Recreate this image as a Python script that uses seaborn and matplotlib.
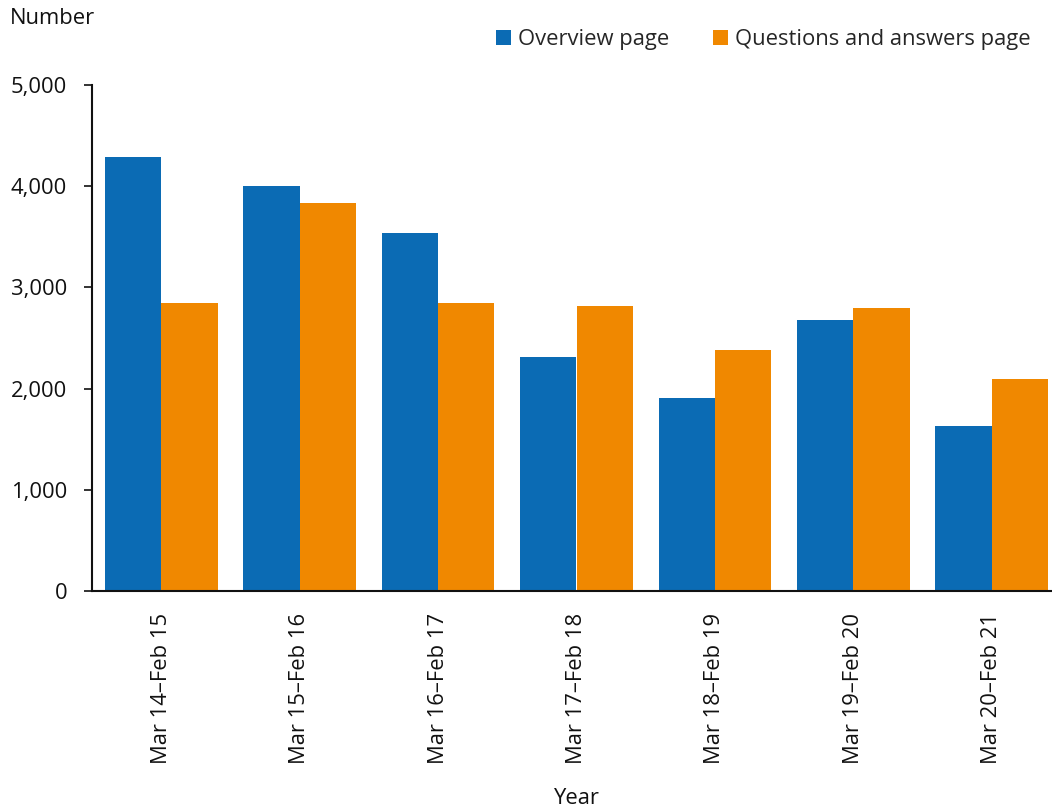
import matplotlib
matplotlib.use("Agg")
import matplotlib.pyplot as plt
import seaborn as sns
import pandas as pd

# Page views per reporting year
periods = ["Mar 14\u2013Feb 15", "Mar 15\u2013Feb 16", "Mar 16\u2013Feb 17",
           "Mar 17\u2013Feb 18", "Mar 18\u2013Feb 19", "Mar 19\u2013Feb 20",
           "Mar 20\u2013Feb 21"]
overview = [4285, 4005, 3540, 2310, 1905, 2675, 1630]
questions = [2850, 3835, 2850, 2820, 2380, 2792, 2090]
series_names = ["Overview page", "Questions and answers page"]
colors = ["#0B6BB4", "#F08800"]

df = pd.DataFrame({
    "period": periods * 2,
    "value": overview + questions,
    "series": [series_names[0]] * len(periods) + [series_names[1]] * len(periods),
})

sns.set_theme(style="white")
plt.rcParams["font.family"] = ["Open Sans", "DejaVu Sans"]
FS = 15.8

fig = plt.figure(figsize=(10.52, 8.09), dpi=100)
ax = fig.add_axes([92 / 1052, 1 - 591 / 809, (1061 - 92) / 1052, (591 - 85) / 809])

sns.barplot(data=df, x="period", y="value", hue="series", order=periods,
            hue_order=series_names, palette=colors, width=0.815, gap=0,
            saturation=1, linewidth=0, ax=ax)

ax.set_ylim(0, 5000)
ax.set_xlim(-0.5, len(periods) - 0.5)
ax.set_yticks(range(0, 5001, 1000))
ax.set_yticklabels([f"{v:,}" for v in range(0, 5001, 1000)], fontsize=FS, color="#111111")
ax.tick_params(axis="y", left=True, length=6, width=1.2, pad=12, color="#111111")
ax.tick_params(axis="x", bottom=False, pad=10)
for lbl in ax.get_xticklabels():
    lbl.set_rotation(90)
    lbl.set_fontsize(FS)
    lbl.set_color("#111111")

for side in ["top", "right"]:
    ax.spines[side].set_visible(False)
for side in ["left", "bottom"]:
    ax.spines[side].set_color("#111111")
    ax.spines[side].set_linewidth(1.5)

ax.set_xlabel("Year", fontsize=FS, color="#111111", labelpad=17)
ax.set_ylabel("")
fig.text(10 / 1052, 1 - 19 / 809, "Number", fontsize=FS, color="#111111",
         ha="left", va="center")

handles, labels = ax.get_legend_handles_labels()
ax.legend(handles, labels, loc="center right", bbox_to_anchor=(1031 / 1052, 1 - 40 / 809),
          bbox_transform=fig.transFigure, ncol=2, frameon=False, fontsize=FS,
          handlelength=0.65, handleheight=0.65, handletextpad=0.35, columnspacing=2.0,
          borderpad=0, borderaxespad=0)

fig.savefig("out.png", dpi=100)
